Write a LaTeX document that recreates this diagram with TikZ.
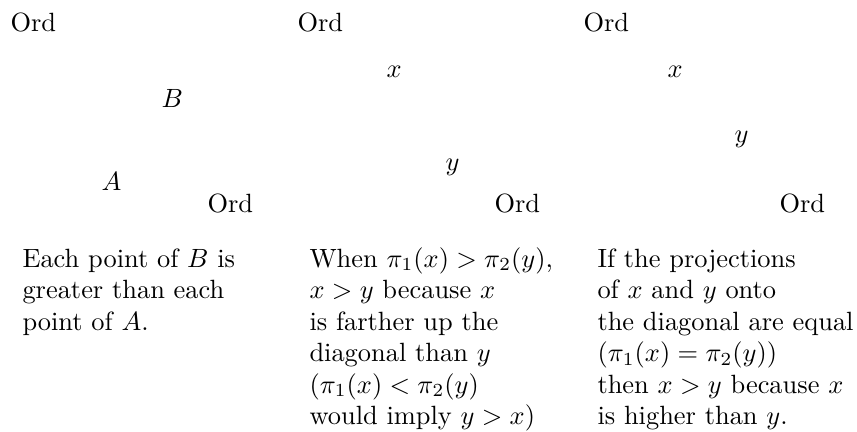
\documentclass[tikz,border=0pt]{standalone}
\begin{document}
\begin{tikzpicture}[x=0.3788pt,y=-0.3788pt,
  lbl/.style={inner sep=0pt,anchor=base west}]
\useasboundingbox (0,0) rectangle (857,432);
% panel 1
\node[lbl] (o1a) at (10,32) {Ord};
\node[lbl] (b1) at (161,107) {$B$};
\node[lbl] (a1) at (101,190) {$A$};
\node[lbl] (o1b) at (207,212) {Ord};
% panel 2
\node[lbl] (o2a) at (297,32) {Ord};
\node[lbl] (x2) at (386,77) {$x$};
\node[lbl] (y2) at (445,170) {$y$};
\node[lbl] (o2b) at (494,212) {Ord};
% panel 3
\node[lbl] (o3a) at (583,32) {Ord};
\node[lbl] (x3) at (667,77) {$x$};
\node[lbl] (y3) at (734,142) {$y$};
\node[lbl] (o3b) at (779,212) {Ord};
% notes, column 1
\node[lbl] (t1a) at (22,267) {Each point of $B$ is};
\node[lbl] (t1b) at (22,298.5) {greater than each};
\node[lbl] (t1c) at (22,330) {point of $A$.};
% notes, column 2
\node[lbl] (t2a) at (309,267) {When $\pi_1(x) > \pi_2(y)$,};
\node[lbl] (t2b) at (309,298.5) {$x > y$ because $x$};
\node[lbl] (t2c) at (309,330) {is farther up the};
\node[lbl] (t2d) at (309,361.5) {diagonal than $y$};
\node[lbl] (t2e) at (309,393) {$(\pi_1(x) < \pi_2(y)$};
\node[lbl] (t2f) at (309,424.5) {would imply $y > x)$};
% notes, column 3
\node[lbl] (t3a) at (597,267) {If the projections};
\node[lbl] (t3b) at (597,298.5) {of $x$ and $y$ onto};
\node[lbl] (t3c) at (597,330) {the diagonal are equal};
\node[lbl] (t3d) at (597,361.5) {$(\pi_1(x) = \pi_2(y))$};
\node[lbl] (t3e) at (597,393) {then $x > y$ because $x$};
\node[lbl] (t3f) at (597,424.5) {is higher than $y$.};
\end{tikzpicture}
\end{document}
